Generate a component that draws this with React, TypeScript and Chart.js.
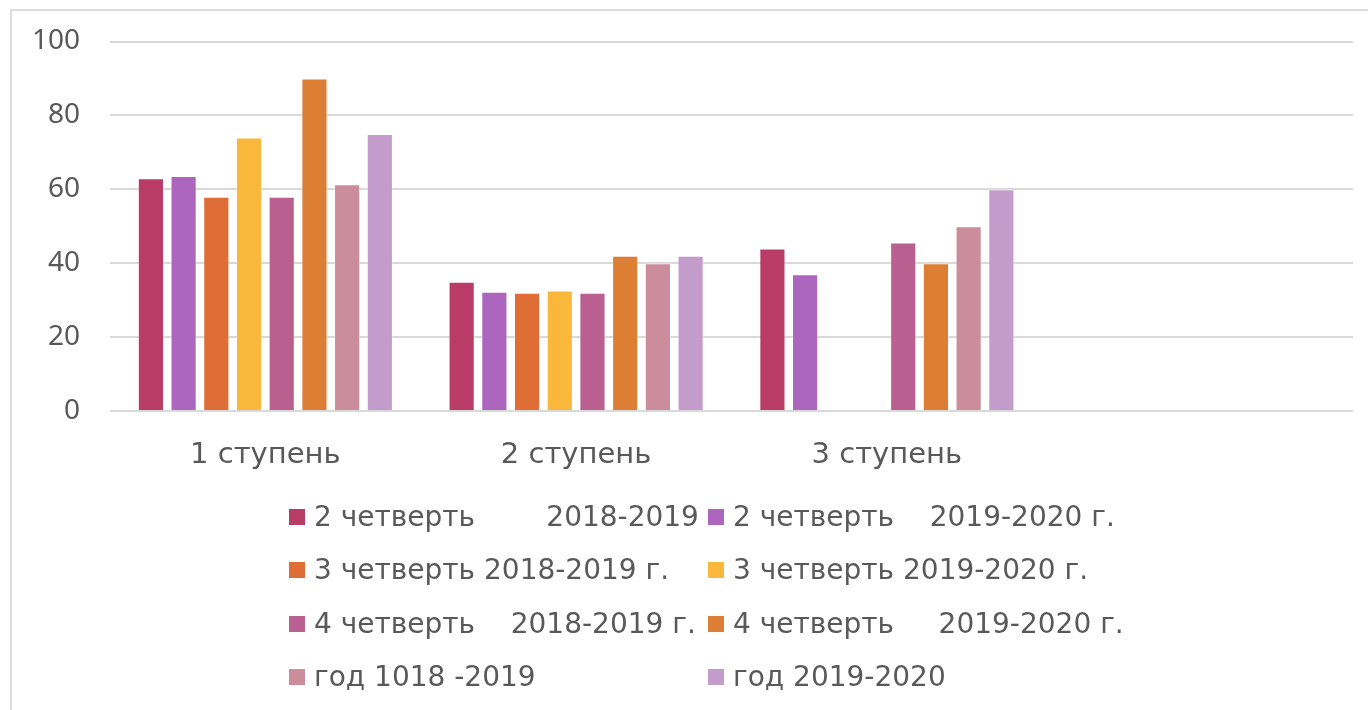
import React, { useEffect, useRef } from "react";
import { Chart, registerables } from "chart.js";

Chart.register(...registerables);

const categories = ["1 ступень", "2 ступень", "3 ступень", ""];
const yTicks = [0, 20, 40, 60, 80, 100];

const seriesLabels = [
  "2 четверть        2018-2019",
  "2 четверть    2019-2020 г.",
  "3 четверть 2018-2019 г.",
  "3 четверть 2019-2020 г.",
  "4 четверть    2018-2019 г.",
  "4 четверть     2019-2020 г.",
  "год 1018 -2019",
  "год 2019-2020",
];

const q2_2018 = [63, 35, 44];
const q2_2019 = [63.6, 32.3, 37];
const q3_2018 = [58, 32, null];
const q3_2019 = [74, 32.6, null];
const q4_2018 = [58, 32, 45.6];
const q4_2019 = [90, 42, 40];
const year_2018 = [61.4, 40, 50];
const year_2019 = [75, 42, 60];

const seriesValues = [q2_2018, q2_2019, q3_2018, q3_2019, q4_2018, q4_2019, year_2018, year_2019];

const seriesColors = [
  "#B93C67",
  "#AC66BD",
  "#DE6D36",
  "#F9B73B",
  "#B96091",
  "#DD7E35",
  "#CB8C9C",
  "#C49CCC",
];

const FONT = "'DejaVu Sans', sans-serif";
const TICK_FONT = "'Noto Sans', sans-serif";
const TEXT = "#595959";

export default function App() {
  const ref = useRef<HTMLCanvasElement | null>(null);

  useEffect(() => {
    if (!ref.current) return;
    const chart = new Chart(ref.current, {
      type: "bar",
      data: {
        labels: categories,
        datasets: seriesValues.map((vals, i) => ({
          label: seriesLabels[i],
          data: vals,
          backgroundColor: seriesColors[i],
          borderColor: "rgba(255,255,255,0.35)",
          borderWidth: 1,
          categoryPercentage: 0.842,
          barPercentage: 0.8,
        })),
      },
      options: {
        animation: false,
        responsive: false,
        maintainAspectRatio: false,
        layout: { padding: { top: 33.5, right: 7, left: 0, bottom: 0 } },
        plugins: {
          legend: { display: false },
          tooltip: { enabled: false },
        },
        scales: {
          x: {
            grid: { display: false },
            border: { display: false },
            ticks: {
              color: TEXT,
              font: { family: FONT, size: 29 },
              padding: 19,
              maxRotation: 0,
            },
            afterFit: (s: any) => {
              s.height = 77;
              s.paddingLeft = 0;
              s.paddingRight = 0;
            },
          },
          y: {
            min: 0,
            max: 100,
            afterBuildTicks: (s: any) => {
              s.ticks = yTicks.map((v) => ({ value: v }));
            },
            grid: { color: "#d9d9d9", lineWidth: 2, drawTicks: false },
            border: { display: false },
            ticks: {
              color: TEXT,
              font: { family: TICK_FONT, size: 28 },
              padding: 30,
            },
            afterFit: (s: any) => {
              s.width = 102;
              s.paddingTop = 0;
              s.paddingBottom = 0;
            },
          },
        },
      },
    });
    return () => chart.destroy();
  }, []);

  return (
    <div style={{ position: "relative", width: 1352, height: 694, overflow: "hidden" }}>
      <div
        style={{
          position: "fixed",
          left: 10,
          top: 9,
          right: 0,
          bottom: 0,
          borderLeft: "2px solid #dcdcdc",
          borderTop: "2px solid #dcdcdc",
          pointerEvents: "none",
        }}
      />
      <canvas ref={ref} width={1352} height={480} style={{ display: "block", position: "absolute", left: 0, top: 0 }} />
      {seriesLabels.map((lab, i) => {
        const col = i % 2;
        const row = Math.floor(i / 2);
        const sqX = col === 0 ? 281 : 700;
        const cy = 508.5 + row * 53.5;
        return (
          <div key={i}>
            <div
              style={{
                position: "absolute",
                left: sqX,
                top: cy - 8,
                width: 16,
                height: 16,
                background: seriesColors[i],
              }}
            />
            <div
              style={{
                position: "absolute",
                left: sqX + 25,
                top: cy - 18,
                height: 36,
                lineHeight: "36px",
                fontFamily: FONT,
                fontSize: 28,
                color: TEXT,
                whiteSpace: "pre",
              }}
            >
              {lab}
            </div>
          </div>
        );
      })}
    </div>
  );
}
